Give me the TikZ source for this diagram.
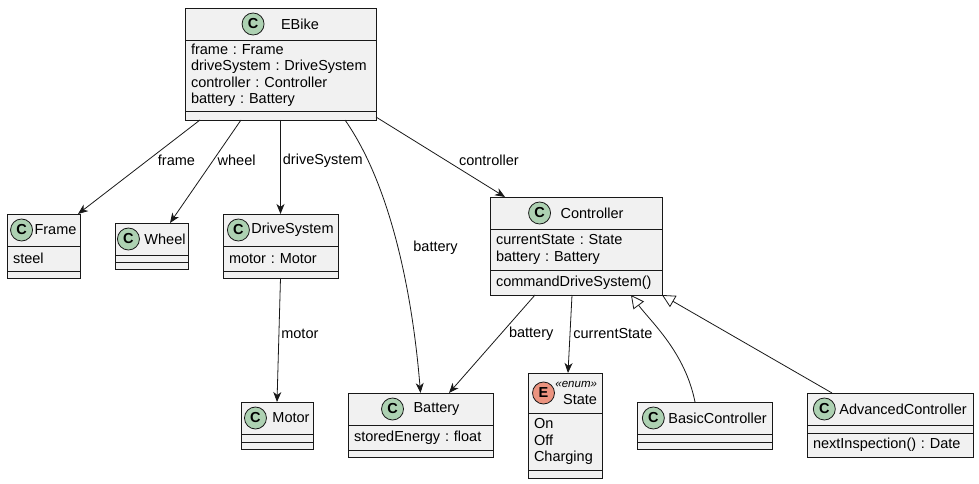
\documentclass[tikz,border=0pt]{standalone}
\usepackage{fontspec}
\setmainfont{Liberation Sans}
\usetikzlibrary{arrows.meta, positioning}
\definecolor{boxFill}{HTML}{F1F1F1}
\definecolor{lineCol}{HTML}{181818}
\definecolor{classIcon}{HTML}{ADD1B2}
\definecolor{enumIcon}{HTML}{EB937F}
\newcommand{\umlfont}{\fontsize{14.5}{16.5}\selectfont}
\frenchspacing

\begin{document}
\begin{tikzpicture}[x=1pt, y=-1pt]
		\tikzstyle{ClassHead} = [rectangle, minimum height=32pt, inner sep=0pt, outer sep=0pt, anchor=north west, draw=lineCol, line width=0.7pt, fill=boxFill, font=\umlfont]
		\tikzstyle{ClassPart} = [rectangle, inner xsep=6pt, inner ysep=0pt, outer sep=0pt, align=left, draw=lineCol, line width=0.7pt, fill=boxFill, font=\umlfont]
		\tikzstyle{ClassIcon} = [circle, minimum size=22pt, inner sep=0pt, draw=lineCol, line width=0.8pt, fill=classIcon, font=\umlfont\bfseries]
		\tikzstyle{EnumIcon} = [ClassIcon, fill=enumIcon]
		\tikzstyle{arrow} = [draw=lineCol, line width=0.8pt, -{Stealth[length=10pt, width=8pt, inset=3pt]}]
		\tikzstyle{extends} = [draw=lineCol, line width=0.8pt, -{Triangle[open, length=13pt, width=13pt]}]
		\tikzstyle{EdgeLabel} = [font=\umlfont, inner sep=0pt]
		
		\useasboundingbox (0,0) rectangle (979,484);
		
		\node (eBike) [ClassHead, minimum width=191pt] at (185,8) {\hspace*{39pt}EBike};
		\node (eBikeA) [ClassPart, text width=179pt, minimum height=71pt, below=0pt of eBike] {frame : Frame\\driveSystem : DriveSystem\\controller : Controller\\battery : Battery};
		\node (eBikeM) [ClassPart, text width=179pt, minimum height=9pt, below=0pt of eBikeA] {};
		\node (eBikeIcon) [ClassIcon, xshift=11pt] at (eBike.text |- eBike.center) {C};
		
		\node (frame) [ClassHead, minimum width=73pt] at (7,214) {\hspace*{24pt}Frame};
		\node (frameA) [ClassPart, text width=61pt, minimum height=25pt, below=0pt of frame] {steel};
		\node (frameM) [ClassPart, text width=61pt, minimum height=7pt, below=0pt of frameA] {};
		\node (frameIcon) [ClassIcon, xshift=11pt] at (frame.text |- frame.center) {C};
		
		\node (wheel) [ClassHead, minimum width=73pt] at (115,223) {\hspace*{27pt}Wheel};
		\node (wheelA) [ClassPart, text width=61pt, minimum height=7pt, below=0pt of wheel] {};
		\node (wheelM) [ClassPart, text width=61pt, minimum height=7pt, below=0pt of wheelA] {};
		\node (wheelIcon) [ClassIcon, xshift=11pt] at (wheel.text |- wheel.center) {C};
		
		\node (driveSystem) [ClassHead, minimum width=115pt] at (223,214) {\hspace*{24pt}DriveSystem};
		\node (driveSystemA) [ClassPart, text width=103pt, minimum height=25pt, below=0pt of driveSystem] {motor : Motor};
		\node (driveSystemM) [ClassPart, text width=103pt, minimum height=7pt, below=0pt of driveSystemA] {};
		\node (driveSystemIcon) [ClassIcon, xshift=11pt] at (driveSystem.text |- driveSystem.center) {C};
		
		\node (controller) [ClassHead, minimum width=172pt] at (490,197) {\hspace*{32pt}Controller};
		\node (controllerA) [ClassPart, text width=160pt, minimum height=41pt, below=0pt of controller] {currentState : State\\battery : Battery};
		\node (controllerM) [ClassPart, text width=160pt, minimum height=25pt, below=0pt of controllerA] {commandDriveSystem()};
		\node (controllerIcon) [ClassIcon, xshift=11pt] at (controller.text |- controller.center) {C};
		
		\node (motor) [ClassHead, minimum width=72pt] at (241,402) {\hspace*{28pt}Motor};
		\node (motorA) [ClassPart, text width=60pt, minimum height=8pt, below=0pt of motor] {};
		\node (motorM) [ClassPart, text width=60pt, minimum height=7pt, below=0pt of motorA] {};
		\node (motorIcon) [ClassIcon, xshift=11pt] at (motor.text |- motor.center) {C};
		
		\node (battery) [ClassHead, minimum width=145pt] at (348,393) {\hspace*{32pt}Battery};
		\node (batteryA) [ClassPart, text width=133pt, minimum height=25pt, below=0pt of battery] {storedEnergy : float};
		\node (batteryM) [ClassPart, text width=133pt, minimum height=7pt, below=0pt of batteryA] {};
		\node (batteryIcon) [ClassIcon, xshift=11pt] at (battery.text |- battery.center) {C};
		
		\node (state) [ClassHead, minimum width=74pt, minimum height=40pt, text width=64pt, align=right] at (528,373) {{\fontsize{11.5}{12}\selectfont\itshape «enum»}\\State};
		\node (stateA) [ClassPart, text width=62pt, minimum height=57pt, below=0pt of state] {On\\Off\\Charging};
		\node (stateM) [ClassPart, text width=62pt, minimum height=8pt, below=0pt of stateA] {};
		\node (stateIcon) [EnumIcon, xshift=15.5pt] at (state.west) {E};
		
		\node (basicController) [ClassHead, minimum width=135pt] at (637,402) {\hspace*{26pt}BasicController};
		\node (basicControllerA) [ClassPart, text width=123pt, minimum height=8pt, below=0pt of basicController] {};
		\node (basicControllerM) [ClassPart, text width=123pt, minimum height=7pt, below=0pt of basicControllerA] {};
		\node (basicControllerIcon) [ClassIcon, xshift=11pt] at (basicController.text |- basicController.center) {C};
		
		\node (advancedController) [ClassHead, minimum width=166pt] at (807,393) {\hspace*{26pt}AdvancedController};
		\node (advancedControllerA) [ClassPart, text width=154pt, minimum height=8pt, below=0pt of advancedController] {};
		\node (advancedControllerM) [ClassPart, text width=154pt, minimum height=24pt, below=0pt of advancedControllerA] {nextInspection() : Date};
		\node (advancedControllerIcon) [ClassIcon, xshift=11pt] at (advancedController.text |- advancedController.center) {C};
		
		\draw[arrow] ([xshift=-80.5pt]eBikeM.south) -- node[EdgeLabel, right=10pt, pos=0.43] {frame} ([xshift=-2pt]frame.north east);
		\draw[arrow] ([xshift=-39.5pt]eBikeM.south) -- node[EdgeLabel, right=4pt, pos=0.39] {wheel} ([xshift=18.5pt]wheel.north);
		\draw[arrow] (eBikeM.south) -- node[EdgeLabel, right=2pt, pos=0.43] {driveSystem} (driveSystem.north);
		\draw[arrow] ([xshift=64.5pt]eBikeM.south) .. controls +(46.5,66.4) and +(-7.8,-97) .. node[EdgeLabel, right=15pt, pos=0.51] {battery} (battery.north);
		\draw[arrow] ([yshift=3pt]eBikeM.south east) -- node[EdgeLabel, right=13pt, pos=0.54] {controller} ([xshift=15pt]controller.north west);
		\draw[arrow] (driveSystemM.south) -- node[EdgeLabel, right=2pt, pos=0.45] {motor} (motor.north);
		\draw[arrow] ([xshift=-41pt]controllerM.south) -- node[EdgeLabel, right=8pt, pos=0.4] {battery} ([xshift=28.5pt]battery.north);
		\draw[arrow] ([xshift=-4pt]controllerM.south) -- node[EdgeLabel, right=3pt, pos=0.5] {currentState} ([xshift=3pt]state.north);
		\draw[extends] ([xshift=-9.5pt]basicController.north) .. controls +(-10,-50) and +(20,27) .. ([xshift=55pt]controllerM.south);
		\draw[extends] ([xshift=-58pt]advancedController.north) -- (controllerM.south east);
\end{tikzpicture}
\end{document}
